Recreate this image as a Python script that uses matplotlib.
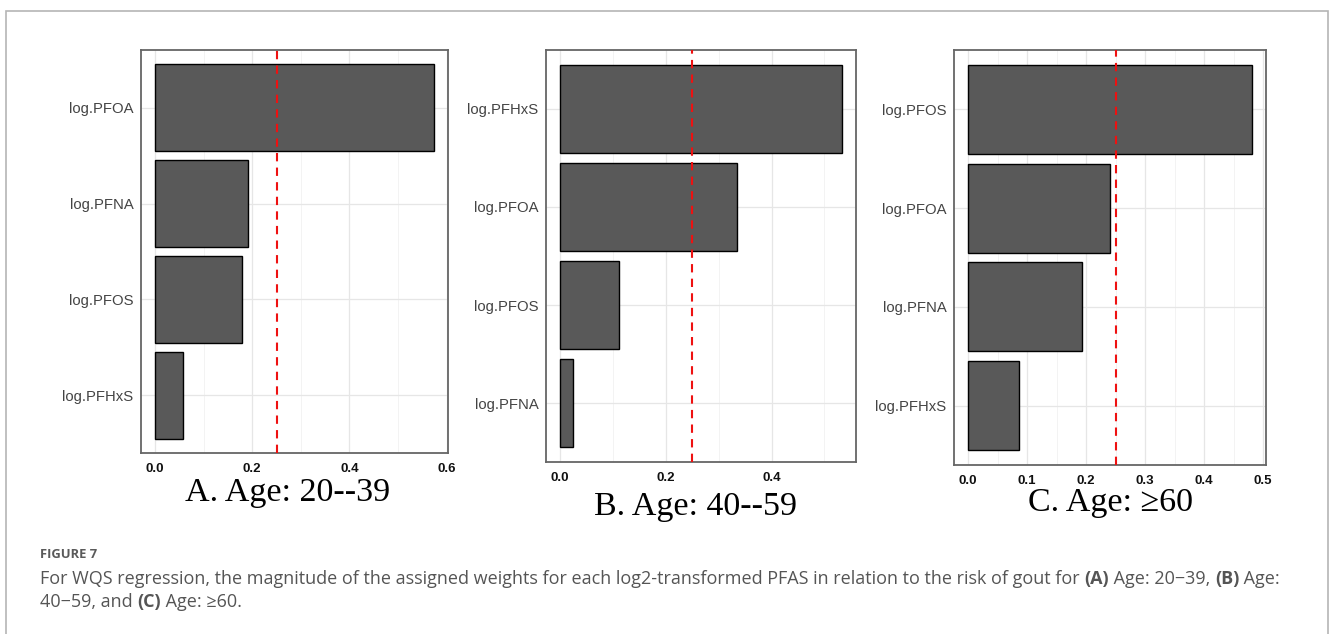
import matplotlib
matplotlib.use("Agg")
import matplotlib.pyplot as plt
from matplotlib.patches import Rectangle
from matplotlib.ticker import MultipleLocator

# ---- data ----
cats_a = ["log.PFOA", "log.PFNA", "log.PFOS", "log.PFHxS"]
vals_a = [0.574, 0.192, 0.178, 0.058]
cats_b = ["log.PFHxS", "log.PFOA", "log.PFOS", "log.PFNA"]
vals_b = [0.533, 0.334, 0.111, 0.024]
cats_c = ["log.PFOS", "log.PFOA", "log.PFNA", "log.PFHxS"]
vals_c = [0.481, 0.241, 0.193, 0.086]
ticks_a = [0.0, 0.2, 0.4, 0.6]
ticks_b = [0.0, 0.2, 0.4]
ticks_c = [0.0, 0.1, 0.2, 0.3, 0.4, 0.5]
threshold = 0.25
titles = ["A. Age: 20--39", "B. Age: 40--59", "C. Age: \u226560"]

W, H = 1332, 634
fig = plt.figure(figsize=(W / 100, H / 100), dpi=100)
fig.patch.set_facecolor("white")

# outer frame
fig.add_artist(Rectangle((6 / W, -0.05), 1322 / W, 1.05 - 11 / H,
                         transform=fig.transFigure, fill=False,
                         edgecolor="#b5b5b5", linewidth=1.2))

boxes = [(141, 50, 448, 453), (546, 50, 856, 462), (954, 50, 1266, 465)]
panels = [(cats_a, vals_a, ticks_a), (cats_b, vals_b, ticks_b), (cats_c, vals_c, ticks_c)]
title_pos = [(288, 493), (695, 507), (1110, 503)]

for (x0, y0, x1, y1), (cats, vals, ticks), title, (tx, ty) in zip(boxes, panels, titles, title_pos):
    ax = fig.add_axes([x0 / W, (H - y1) / H, (x1 - x0) / W, (y1 - y0) / H])
    n = len(cats)
    ypos = list(range(n))
    ax.barh(ypos, vals, height=0.9, color="#595959", edgecolor="black",
            linewidth=1.0, zorder=3)
    vmax = max(vals)
    ax.set_xlim(-0.05 * vmax, 1.05 * vmax)
    ax.set_ylim(n - 1 + 0.6, -0.6)
    ax.set_yticks(ypos)
    ax.set_yticklabels(cats, fontsize=10.7, color="#444444", family="Liberation Sans")
    ax.set_xticks(ticks)
    ax.set_xticklabels([f"{t:.1f}" for t in ticks], fontsize=9.5, color="#111111",
                       family="Liberation Sans", fontweight="bold")
    step = ticks[1] - ticks[0]
    ax.xaxis.set_minor_locator(MultipleLocator(step / 2))
    ax.tick_params(axis="both", which="both", length=0)
    ax.tick_params(axis="y", pad=5.5)
    ax.tick_params(axis="x", pad=7)
    ax.grid(True, which="major", color="#e6e6e6", linewidth=0.9, zorder=0)
    ax.grid(True, which="minor", axis="x", color="#eeeeee", linewidth=0.5, zorder=0)
    ax.set_axisbelow(True)
    ax.axvline(threshold, color="#ee1111", linestyle=(0, (4, 3)), linewidth=1.5, zorder=4)
    for s in ax.spines.values():
        s.set_edgecolor("#666666")
        s.set_linewidth(1.3)
    fig.text(tx / W, 1 - ty / H, title, ha="center", va="center", fontsize=24.5,
             family=["Liberation Serif", "DejaVu Serif"], color="black")

# caption
cap_family = ["Open Sans", "DejaVu Sans"]
fig.text(40 / W, 1 - 555 / H, "FIGURE 7", fontsize=9.4, color="#5a5a5a",
         family=cap_family, fontweight="bold", va="center", ha="left")

renderer = fig.canvas.get_renderer()

def draw_line(segments, x_px, y_px, size):
    x = x_px
    for txt, wt in segments:
        t = fig.text(x / W, 1 - y_px / H, txt, fontsize=size, color="#555555",
                     family=cap_family, fontweight=wt, va="center", ha="left")
        bb = t.get_window_extent(renderer=renderer)
        x += bb.width

line1 = [("For WQS regression, the magnitude of the assigned weights for each log2-transformed PFAS in relation to the risk of gout for ", "normal"),
         ("(A)", "bold"), (" Age: 20\u221239, ", "normal"), ("(B)", "bold"), (" Age:", "normal")]
line2 = [("40\u221259, and ", "normal"), ("(C)", "bold"), (" Age: \u226560.", "normal")]
draw_line(line1, 40, 579, 13.0)
draw_line(line2, 40, 602, 13.0)

fig.savefig("out.png", dpi=100, facecolor="white")
